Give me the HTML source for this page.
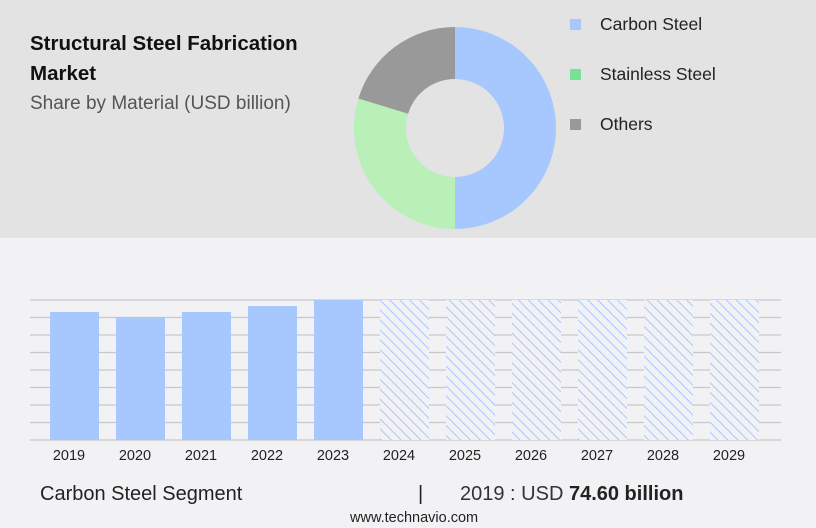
<!DOCTYPE html>
<html><head><style>
body{margin:0;width:816px;height:528px;overflow:hidden;background:#f2f2f4;font-family:"Liberation Sans",sans-serif;}
</style></head><body>
<svg width="816" height="528" xmlns="http://www.w3.org/2000/svg" style="position:absolute;left:0;top:0">
<defs>
<pattern id="h" patternUnits="userSpaceOnUse" width="7" height="7" patternTransform="rotate(-45)">
<rect width="7" height="7" fill="#f2f2f4"/>
<line x1="0" y1="0" x2="0" y2="7" stroke="#a6c8ff" stroke-width="2"/>
</pattern>
</defs>
<rect x="0" y="0" width="816" height="238" fill="#e3e3e3"/>
<text x="30" y="50" font-size="20.5" font-weight="bold" fill="#111">Structural Steel Fabrication</text>
<text x="30" y="80" font-size="20.5" font-weight="bold" fill="#111">Market</text>
<text x="30" y="109" font-size="19" fill="#555">Share by Material (USD billion)</text>
<path d="M455 27 A101 101 0 0 1 455 229 L455 177 A49 49 0 0 0 455 79 Z" fill="#a6c8ff"/>
<path d="M455 229 A101 101 0 0 1 358.4 98.5 L408.1 113.7 A49 49 0 0 0 455 177 Z" fill="#b8f0b8"/>
<path d="M358.4 98.5 A101 101 0 0 1 455 27 L455 79 A49 49 0 0 0 408.1 113.7 Z" fill="#999"/>
<rect x="570" y="19" width="11" height="11" fill="#a6c8ff"/>
<rect x="570" y="69" width="11" height="11" fill="#77e09a"/>
<rect x="570" y="119" width="11" height="11" fill="#999"/>
<text x="600" y="30" font-size="17.5" fill="#222">Carbon Steel</text>
<text x="600" y="80" font-size="17.5" fill="#222">Stainless Steel</text>
<text x="600" y="130" font-size="17.5" fill="#222">Others</text>
<g stroke="#c8c8c8" stroke-width="1.2">
<line x1="30" x2="781" y1="300" y2="300"/><line x1="30" x2="781" y1="317.5" y2="317.5"/>
<line x1="30" x2="781" y1="335" y2="335"/><line x1="30" x2="781" y1="352.5" y2="352.5"/>
<line x1="30" x2="781" y1="370" y2="370"/><line x1="30" x2="781" y1="387.5" y2="387.5"/>
<line x1="30" x2="781" y1="405" y2="405"/><line x1="30" x2="781" y1="422.5" y2="422.5"/>
<line x1="30" x2="781" y1="440" y2="440"/>
</g>
<g fill="#a6c8ff">
<rect x="50" y="312" width="49" height="128"/>
<rect x="116" y="317" width="49" height="123"/>
<rect x="182" y="312" width="49" height="128"/>
<rect x="248" y="306" width="49" height="134"/>
<rect x="314" y="300" width="49" height="140"/>
</g>
<g fill="url(#h)">
<rect x="380" y="300" width="49" height="140"/><rect x="446" y="300" width="49" height="140"/>
<rect x="512" y="300" width="49" height="140"/><rect x="578" y="300" width="49" height="140"/>
<rect x="644" y="300" width="49" height="140"/><rect x="710" y="300" width="49" height="140"/>
</g>
<g font-size="14.5" fill="#222" text-anchor="middle">
<text x="69" y="460">2019</text><text x="135" y="460">2020</text><text x="201" y="460">2021</text>
<text x="267" y="460">2022</text><text x="333" y="460">2023</text><text x="399" y="460">2024</text>
<text x="465" y="460">2025</text><text x="531" y="460">2026</text><text x="597" y="460">2027</text>
<text x="663" y="460">2028</text><text x="729" y="460">2029</text>
</g>
<text x="40" y="500" font-size="20" fill="#222">Carbon Steel Segment</text>
<text x="418" y="500" font-size="20" fill="#222">|</text>
<text x="460" y="500" font-size="20" fill="#333">2019 : USD <tspan font-weight="bold" fill="#222">74.60 billion</tspan></text>
<text x="350" y="522" font-size="14.5" fill="#222">www.technavio.com</text>
</svg>
</body></html>
